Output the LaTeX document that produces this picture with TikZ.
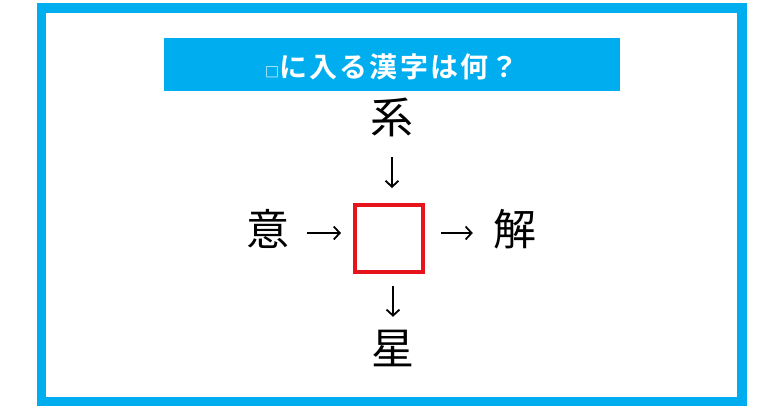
\documentclass[tikz,border=0pt]{standalone}
\usepackage{fontspec}
\usetikzlibrary{arrows.meta,calc}
\newfontfamily\jpfont{Noto Sans CJK JP}
\newfontfamily\jpbold[LetterSpace=8]{Noto Sans CJK JP Bold}
\definecolor{frameblue}{HTML}{00AEEF}
\definecolor{boxred}{HTML}{E8141B}
\tikzset{
  kanji/.style={font=\jpfont\fontsize{43}{43}\selectfont, inner sep=0pt, text height=33.8pt, text depth=9.2pt, text width=43pt, align=center},
  arr/.style={line width=1.8pt, -{Straight Barb[length=6pt,width=13pt,line width=1.8pt]}},
  answerbox/.style={draw=boxred, line width=4pt, minimum size=67.5pt, inner sep=0pt},
  titlebar/.style={fill=frameblue, minimum width=456pt, minimum height=53pt, inner sep=0pt}
}
\begin{document}
\begin{tikzpicture}[x=1pt,y=-1pt]
\useasboundingbox (0,0) rectangle (776,408);
\fill[white] (0,0) rectangle (776,408);
\draw[frameblue, line width=9.5pt] (41.5,8) rectangle (742,401.5);
\node[titlebar] (bar) at (392,64.5) {};
\node[text=white, font=\jpbold\fontsize{28}{28}\selectfont, inner sep=0pt] (title) at (392,67) {{\fontsize{14}{14}\selectfont □}に入る漢字は何？};
\node[kanji] (kei) at (392,121) {系};
\node[kanji] (i) at (268,233) {意};
\node[answerbox] (box) at (389,238.5) {};
\node[kanji] (ge) at (515,233) {解};
\node[kanji] (hoshi) at (393,352) {星};
\draw[arr, shorten <=14.5pt, shorten >=14.75pt] (kei.south) -- (kei.south |- box.north);
\draw[arr, shorten <=17.5pt, shorten >=12.25pt] (i.east) -- (i.east -| box.west);
\draw[arr, shorten <=16.25pt, shorten >=20.5pt] (ge.west -| box.east) -- (ge.west);
\draw[arr, shorten <=11.75pt, shorten >=13.5pt] (hoshi.north |- box.south) -- (hoshi.north);
\end{tikzpicture}
\end{document}
